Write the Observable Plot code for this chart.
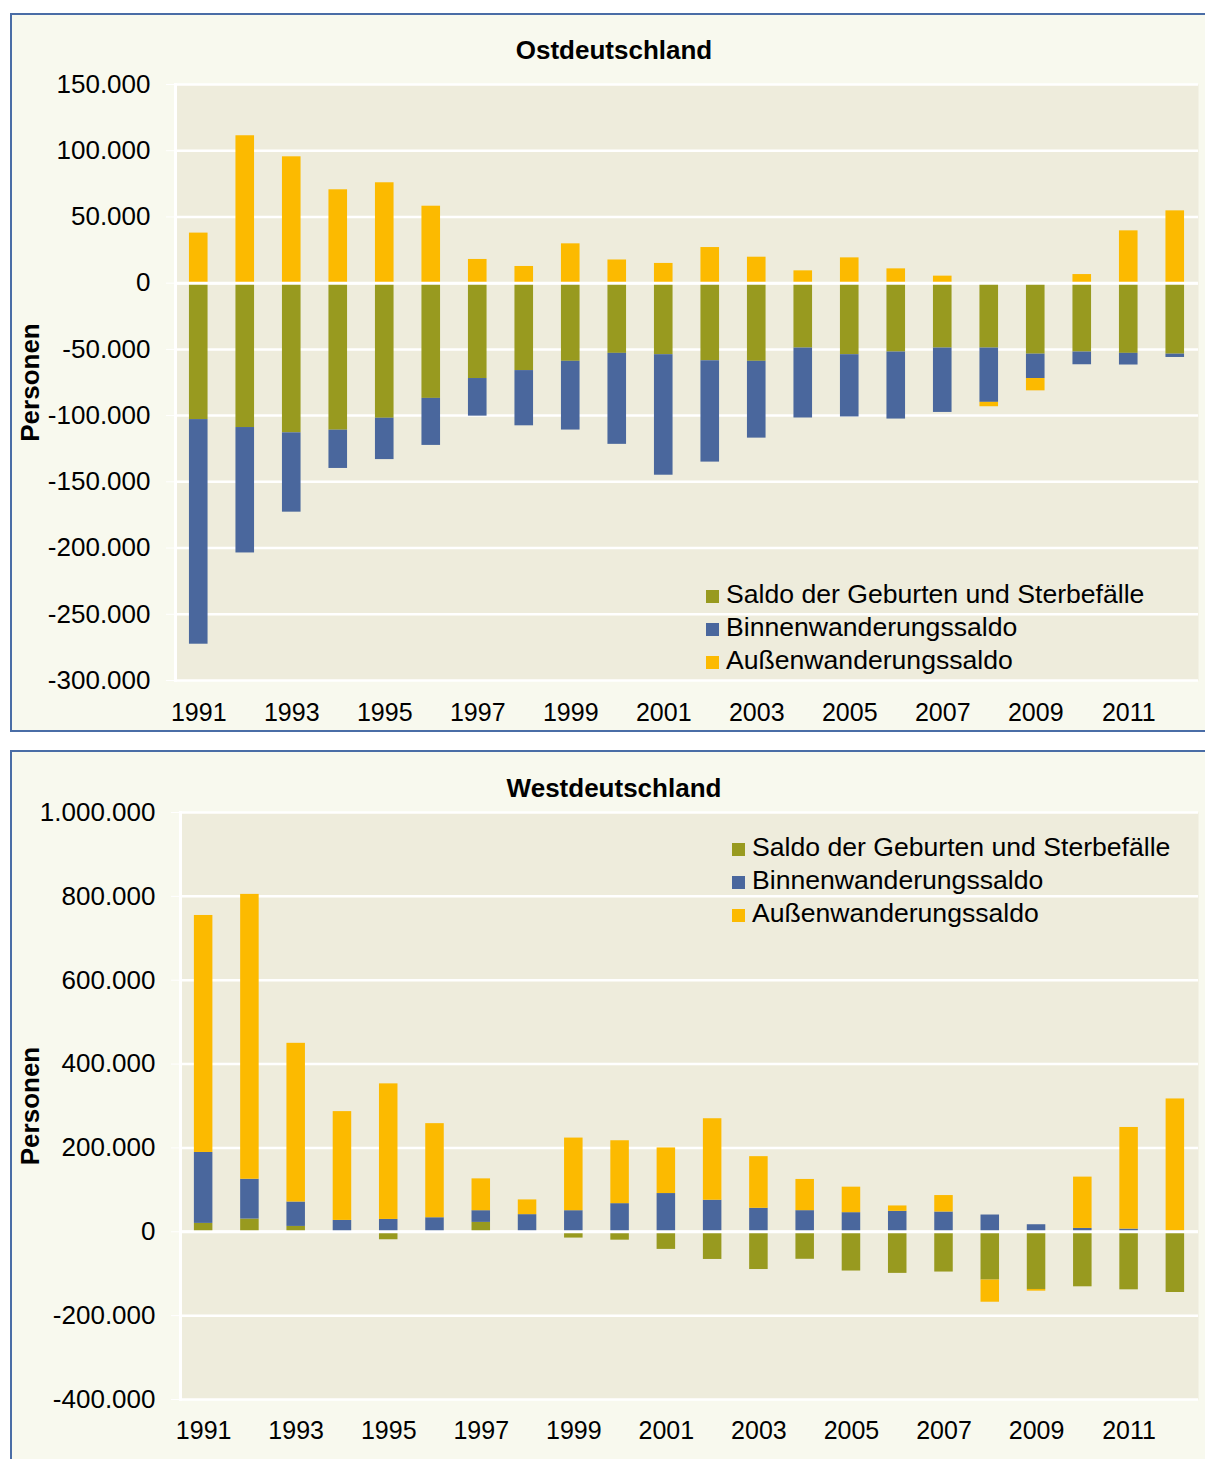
<!DOCTYPE html>
<html>
<head>
<meta charset="utf-8">
<script src="https://cdn.jsdelivr.net/npm/d3@7"></script>
<script src="https://cdn.jsdelivr.net/npm/@observablehq/plot@0.6"></script>
<style>
  body { margin: 0; background: #ffffff; }
  #page { position: relative; width: 1205px; height: 1459px; overflow: hidden; font-family: "Liberation Sans", Arial, sans-serif; color: #000; }
  .panel { position: absolute; left: 10px; width: 1230px; border: 2px solid #4a6da6; background: #f8f9ee; box-sizing: border-box; }
  .chart { position: absolute; left: 0; }
  .title { position: absolute; left: 0; width: 1228px; text-align: center; font-weight: bold; font-size: 26px; line-height: 26px; }
  .legend { position: absolute; font-size: 26.6px; }
  .legend div { height: 33px; line-height: 33px; white-space: nowrap; }
  .legend span { display: inline-block; width: 13px; height: 13px; margin-right: 7px; vertical-align: baseline; }
</style>
</head>
<body>
<div id="page">
  <div class="panel" style="top:13px;height:719px;"></div>
  <div class="panel" style="top:750px;height:800px;"></div>
  <div class="title" style="top:37px;">Ostdeutschland</div>
  <div class="title" style="top:775px;">Westdeutschland</div>
  <div id="chartOst" class="chart" style="top:0px;"></div>
  <div id="chartWest" class="chart" style="top:740px;"></div>
  <div id="legendOst" class="legend" style="left:706px;top:578px;"></div>
  <div id="legendWest" class="legend" style="left:732px;top:831px;"></div>
</div>
<script>
// ---- data ----
const years = [1991, 1992, 1993, 1994, 1995, 1996, 1997, 1998, 1999, 2000, 2001,
               2002, 2003, 2004, 2005, 2006, 2007, 2008, 2009, 2010, 2011, 2012];
const tickYears = [1991, 1993, 1995, 1997, 1999, 2001, 2003, 2005, 2007, 2009, 2011];
const seriesNames = ["Saldo der Geburten und Sterbefälle", "Binnenwanderungssaldo", "Außenwanderungssaldo"];
const seriesColors = ["#989a1f", "#4a679d", "#fcba00"];

const ostNatural = [-103000, -109000, -113000, -111000, -102000, -87000, -72000, -66000, -59000, -53000, -54000,
                    -58600, -59000, -49000, -54000, -52000, -49000, -49000, -53600, -52000, -53000, -53600];
const ostBinnen  = [-169600, -94700, -59900, -28900, -31200, -35500, -28400, -41700, -51900, -68700, -91000,
                    -76500, -58000, -52800, -47000, -50600, -48600, -41000, -18400, -9600, -8800, -2500];
const ostAussen  = [37800, 111300, 95400, 70500, 75800, 58100, 17900, 12600, 29700, 17500, 14900,
                    26900, 19600, 9300, 19100, 10800, 5300, -3300, -9300, 6500, 39500, 54600];

const westNatural = [20000, 30300, 12800, -3000, -19000, -1000, 22400, 1000, -15000, -20000, -42000,
                     -66000, -90000, -65600, -93600, -99200, -96000, -115200, -137600, -131200, -138400, -144800];
const westBinnen  = [169200, 95000, 58200, 27100, 29500, 33500, 27900, 39900, 50300, 67100, 91200,
                     75200, 56000, 50400, 45600, 48800, 47200, 40000, 16800, 8000, 6400, 2000];
const westAussen  = [565200, 679400, 378500, 259500, 323300, 224400, 75900, 35100, 173200, 150000, 108800,
                     194400, 123200, 74400, 60800, 12800, 39200, -52800, -4000, 122400, 242400, 314800];

const ostTicks  = [150000, 100000, 50000, 0, -50000, -100000, -150000, -200000, -250000, -300000];
const westTicks = [1000000, 800000, 600000, 400000, 200000, 0, -200000, -400000];
const yLabel = "Personen";

// ---- chart ----
const fmt = d3.formatLocale({decimal: ",", thousands: ".", grouping: [3], currency: ["", "€"], minus: "-"}).format(",.0f");

function makeChart({natural, binnen, aussen, ticks, domain, height, marginLeft, marginTop, marginBottom, xPad}) {
  const rows = [];
  years.forEach((yr, i) => {
    rows.push({year: yr, series: seriesNames[0], value: natural[i]});
    rows.push({year: yr, series: seriesNames[1], value: binnen[i]});
    rows.push({year: yr, series: seriesNames[2], value: aussen[i]});
  });
  return Plot.plot({
    width: 1205,
    height,
    marginLeft,
    marginRight: 7,
    marginTop,
    marginBottom,
    style: {fontFamily: "Liberation Sans, Arial, sans-serif", background: "transparent", overflow: "visible", color: "black"},
    x: {type: "band", domain: years, paddingInner: 0.6, paddingOuter: 0.3, round: false, label: null},
    y: {domain, label: null},
    color: {domain: seriesNames, range: seriesColors},
    marks: [
      Plot.frame({fill: "#eeecdc", stroke: "none"}),
      Plot.ruleY(ticks, {stroke: "white", strokeWidth: 2.5}),
      Plot.barY(rows, {x: "year", y: "value", fill: "series"}),
      Plot.ruleY([0], {stroke: "white", strokeWidth: 3}),
      Plot.frame({anchor: "left", stroke: "white", strokeWidth: 3}),
      Plot.axisY({ticks, tickFormat: fmt, tickSize: 9, tickPadding: 16, stroke: "white", fill: "black", fontSize: 26, label: null}),
      Plot.axisX({ticks: tickYears, tickFormat: d => `${d}`, tickSize: 0, tickPadding: xPad, fill: "black", fontSize: 25, label: null}),
      Plot.text([yLabel], {frameAnchor: "left", dx: 30 - marginLeft, rotate: -90, textAnchor: "middle", lineAnchor: "middle", fontWeight: "bold", fontSize: 26, fill: "black"})
    ]
  });
}

document.getElementById("chartOst").append(makeChart({
  natural: ostNatural, binnen: ostBinnen, aussen: ostAussen,
  ticks: ostTicks, domain: [-300000, 150000],
  height: 735, marginLeft: 175, marginTop: 84, marginBottom: 55, xPad: 23
}));
document.getElementById("chartWest").append(makeChart({
  natural: westNatural, binnen: westBinnen, aussen: westAussen,
  ticks: westTicks, domain: [-400000, 1000000],
  height: 719, marginLeft: 180, marginTop: 72, marginBottom: 60, xPad: 22
}));

function makeLegend(id) {
  const el = document.getElementById(id);
  seriesNames.forEach((name, i) => {
    const row = document.createElement("div");
    const sw = document.createElement("span");
    sw.style.background = seriesColors[i];
    row.append(sw, document.createTextNode(name));
    el.append(row);
  });
}
makeLegend("legendOst");
makeLegend("legendWest");
</script>
</body>
</html>
